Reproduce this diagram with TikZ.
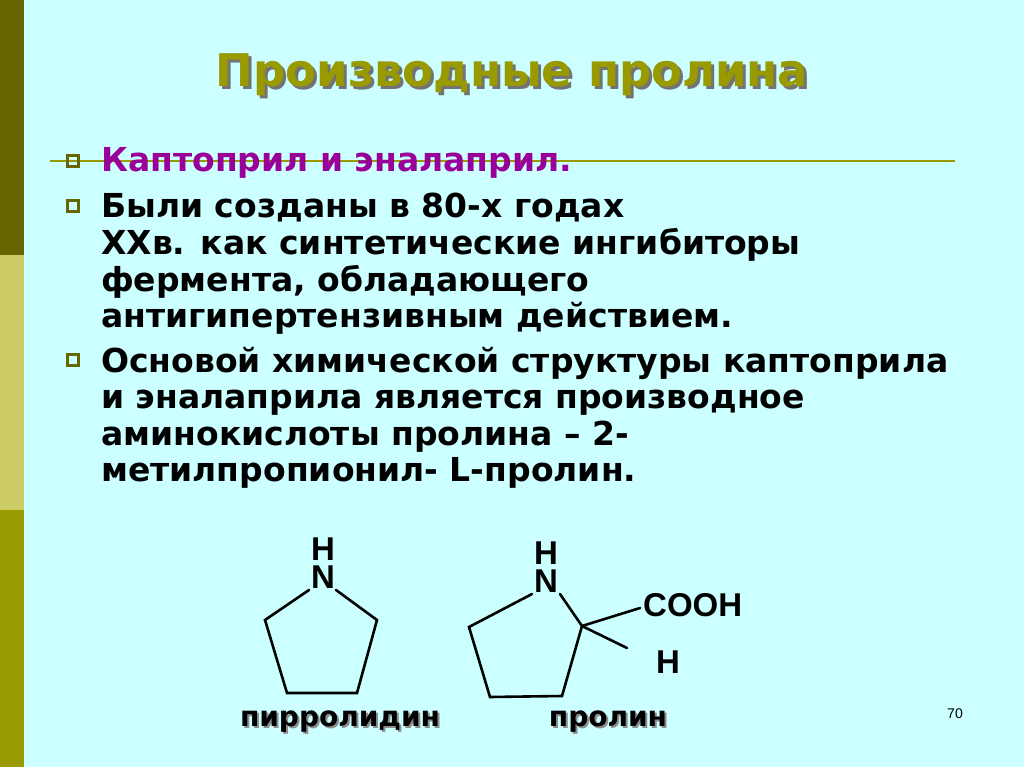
\documentclass[tikz,border=0pt]{standalone}
\usepackage{fontspec}
\setmainfont{DejaVu Sans}
\newfontfamily\arial{Liberation Sans}
\definecolor{bg}{HTML}{CCFFFF}
\definecolor{olv}{HTML}{999900}
\definecolor{dolv}{HTML}{666600}
\definecolor{lolv}{HTML}{CCCC66}
\definecolor{mag}{HTML}{990099}
\begin{document}
\begin{tikzpicture}[x=1pt,y=-1pt,
  body/.style={anchor=base west,font=\bfseries\fontsize{33}{33}\selectfont,inner sep=0pt},
  bul/.style={draw=dolv,line width=2.5pt,minimum size=11pt,inner sep=0pt},
  bond/.style={line width=2.6pt,line cap=round},
  atom/.style={font=\arial\bfseries\fontsize{33}{33}\selectfont,inner sep=0pt},
  lab/.style={font=\bfseries\fontsize{28}{28}\selectfont,inner sep=0pt}]
\fill[bg] (0,0) rectangle (1024,767);
\useasboundingbox (0,0) rectangle (1024,767);
\fill[dolv] (0,0) rectangle (24,255);
\fill[lolv] (0,255) rectangle (24,510);
\fill[olv] (0,510) rectangle (24,767);
% title
\node[font=\bfseries\fontsize{45}{45}\selectfont,text=black!55] at (515,78) {Производные пролина};
\node (title)[font=\bfseries\fontsize{45}{45}\selectfont,text=olv] at (512,75) {Производные пролина};
\draw[olv,line width=2pt] (50,161) -- (955,161);
% bullets
\node[bul] (b1) at (73,161) {};
\node[body,text=mag] (t1) at (101,172) {Каптоприл и эналаприл.};
\node[bul] (b2) at (73,206) {};
\node[body] (t2a) at (101,218) {Были созданы в 80-х годах};
\node[body] (t2b) at (101,254.5) {ХХв. как синтетические ингибиторы};
\node[body] (t2c) at (101,291) {фермента, обладающего};
\node[body] (t2d) at (101,327.5) {антигипертензивным действием.};
\node[bul] (b3) at (73,360) {};
\node[body] (t3a) at (101,372) {Основой химической структуры каптоприла};
\node[body] (t3b) at (101,408.5) {и эналаприла является производное};
\node[body] (t3c) at (101,445) {аминокислоты пролина – 2-};
\node[body] (t3d) at (101,481.5) {метилпропионил- L-пролин.};
% pyrrolidine
\node[atom] (n1) at (323,577) {N};
\node[atom] (h1) at (323,549) {H};
\coordinate (a1) at (265,620); \coordinate (a2) at (287,693);
\coordinate (a3) at (357,693); \coordinate (a4) at (377,620);
\draw[bond] (309,590) -- (a1) -- (a2) -- (a3) -- (a4) -- (336,590);
% proline
\node[atom] (n2) at (546,581) {N};
\node[atom] (h2) at (546,553) {H};
\coordinate (p1) at (469,627); \coordinate (p2) at (490,697);
\coordinate (p3) at (562,696); \coordinate (p4) at (582,626);
\draw[bond] (532,594) -- (p1) -- (p2) -- (p3) -- (p4) -- (560,594);
\node[atom,anchor=west] (cooh) at (643,605) {COOH};
\node[atom] (h3) at (668,662) {H};
\draw[bond] (p4) -- (640,608);
\draw[bond] (p4) -- (627,648);
% labels
\node[lab,text=black!45] at (342,724) {пирролидин};
\node[lab] (l1) at (340,722) {пирролидин};
\node[lab,text=black!45] at (610,724) {пролин};
\node[lab] (l2) at (608,722) {пролин};
\node[font=\arial\fontsize{14}{14}\selectfont] (pg) at (955,714) {70};
\end{tikzpicture}
\end{document}
